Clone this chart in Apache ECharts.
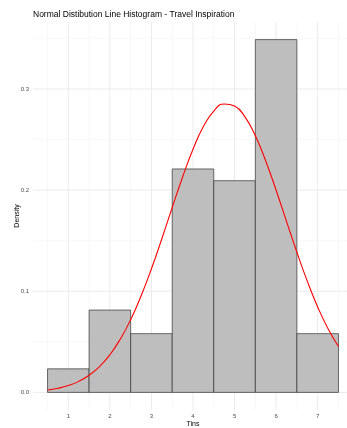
<!DOCTYPE html>
<html>
<head>
<meta charset="utf-8">
<script src="https://cdn.jsdelivr.net/npm/echarts@6/dist/echarts.min.js"></script>
<style>
  html, body { margin: 0; padding: 0; background: #fff; }
  #chart { width: 347px; height: 428px; }
</style>
</head>
<body>
<div id="chart"></div>
<script>
// Histogram bins (edges) and their densities
const binEdges = [0.5, 1.5, 2.5, 3.5, 4.5, 5.5, 6.5, 7.5];
const densities = [0.0233, 0.0814, 0.0581, 0.2209, 0.2093, 0.3488, 0.0581];

// Fitted normal density line
const curveX = [0.5, 0.75, 1.0, 1.25, 1.5, 1.75, 2.0, 2.25, 2.5, 2.75, 3.0, 3.25, 3.5, 3.75,
                4.0, 4.25, 4.5, 4.75, 5.0, 5.25, 5.5, 5.75, 6.0, 6.25, 6.5, 6.75, 7.0, 7.25, 7.5];
const curveY = [0.0024, 0.0041, 0.0068, 0.0109, 0.0170, 0.0255, 0.0372, 0.0526, 0.0719, 0.0953,
                0.1222, 0.1519, 0.1828, 0.2130, 0.2404, 0.2628, 0.2782, 0.2852, 0.2832, 0.2724,
                0.2537, 0.2288, 0.1999, 0.1691, 0.1386, 0.1100, 0.0845, 0.0629, 0.0454];

// Axis ticks and grid lines
const xTicks = [1, 2, 3, 4, 5, 6, 7];
const yTicks = [0, 0.1, 0.2, 0.3];
const xGridMinor = [0.5, 1.5, 2.5, 3.5, 4.5, 5.5, 6.5, 7.5];
const yGridMinor = [0.05, 0.15, 0.25, 0.35];

const X_MIN = 0.15, X_MAX = 7.85, Y_MIN = -0.0174, Y_MAX = 0.3662;

const chart = echarts.init(document.getElementById('chart'), null, { renderer: 'canvas' });

const barData = densities.map((d, i) => [binEdges[i], binEdges[i + 1], d]);
const curveData = curveX.map((x, i) => [x, curveY[i]]);

// grid line records: [orientation (0 = vertical, 1 = horizontal), value, major flag]
const gridData = []
  .concat(xGridMinor.map(v => [0, v, 0]))
  .concat(yGridMinor.map(v => [1, v, 0]))
  .concat(xTicks.map(v => [0, v, 1]))
  .concat(yTicks.map(v => [1, v, 1]));

const tickFont = { fontFamily: 'Liberation Sans, Arial, sans-serif', fontSize: 6, color: '#4D4D4D' };

chart.setOption({
  animation: false,
  backgroundColor: '#ffffff',
  title: {
    text: 'Normal Distibution Line Histogram - Travel Inspiration',
    left: 33,
    top: 10,
    padding: 0,
    textStyle: { fontFamily: 'Liberation Sans, Arial, sans-serif', fontSize: 8.5, fontWeight: 'normal', color: '#000' }
  },
  grid: { left: 33, right: -6, top: 22, bottom: 18, containLabel: false, outerBoundsMode: 'none' },
  xAxis: {
    type: 'value',
    min: X_MIN,
    max: X_MAX,
    name: 'Tins',
    nameLocation: 'middle',
    nameGap: 11,
    nameMoveOverlap: false,
    nameTextStyle: { fontFamily: 'Liberation Sans, Arial, sans-serif', fontSize: 7, color: '#000' },
    axisLine: { show: false },
    axisTick: { show: false },
    splitLine: { show: false },
    axisLabel: Object.assign({ customValues: xTicks, margin: 3, formatter: v => String(v) }, tickFont)
  },
  yAxis: {
    type: 'value',
    min: Y_MIN,
    max: Y_MAX,
    name: 'Density',
    nameLocation: 'middle',
    nameRotate: 90,
    nameGap: 12,
    nameMoveOverlap: false,
    nameTextStyle: { fontFamily: 'Liberation Sans, Arial, sans-serif', fontSize: 7, color: '#000' },
    axisLine: { show: false },
    axisTick: { show: false },
    splitLine: { show: false },
    axisLabel: Object.assign({ customValues: yTicks, margin: 4, formatter: v => v.toFixed(1) }, tickFont)
  },
  series: [
    {
      // panel grid lines
      type: 'custom',
      z: 0,
      silent: true,
      data: gridData,
      encode: { x: -1, y: -1 },
      renderItem: function (params, api) {
        const vertical = api.value(0) === 0;
        const v = api.value(1);
        const major = api.value(2) === 1;
        const a = vertical ? api.coord([v, Y_MIN]) : api.coord([X_MIN, v]);
        const b = vertical ? api.coord([v, Y_MAX]) : api.coord([X_MAX, v]);
        return {
          type: 'line',
          shape: { x1: a[0], y1: a[1], x2: b[0], y2: b[1] },
          style: { stroke: major ? '#EBEBEB' : '#F4F4F4', lineWidth: major ? 1 : 0.6 }
        };
      }
    },
    {
      type: 'custom',
      z: 2,
      data: barData,
      encode: { x: [0, 1], y: 2 },
      renderItem: function (params, api) {
        const lo = api.value(0), hi = api.value(1), d = api.value(2);
        const p1 = api.coord([lo, d]);
        const p2 = api.coord([hi, 0]);
        return {
          type: 'rect',
          shape: { x: p1[0], y: p1[1], width: p2[0] - p1[0], height: p2[1] - p1[1] },
          style: { fill: '#BEBEBE', stroke: '#333333', lineWidth: 0.7 }
        };
      }
    },
    {
      type: 'line',
      z: 3,
      data: curveData,
      smooth: true,
      showSymbol: false,
      lineStyle: { color: '#FF0000', width: 1.1 }
    }
  ]
});
</script>
</body>
</html>
